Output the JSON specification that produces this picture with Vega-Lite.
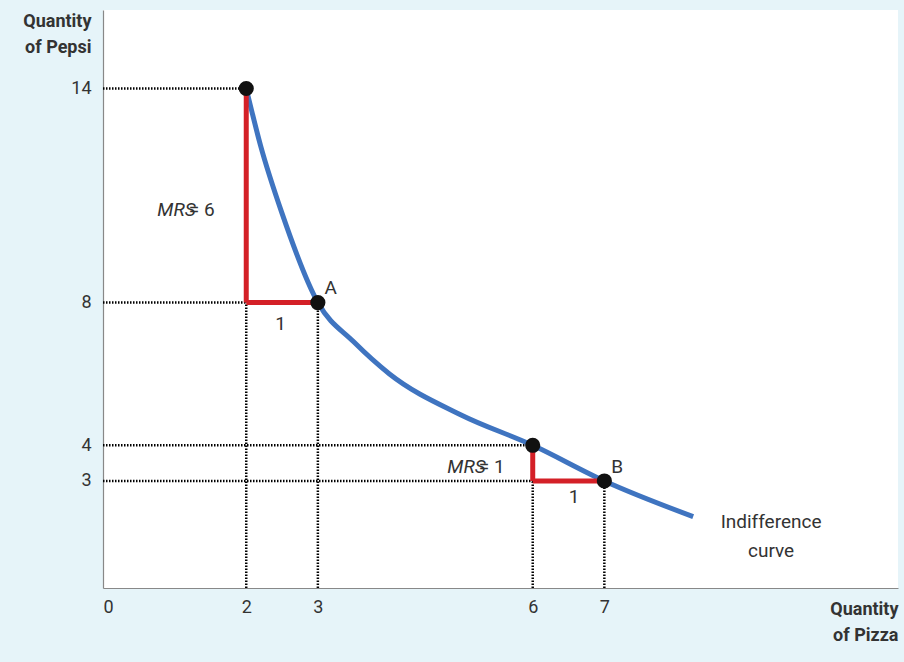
{
  "$schema": "https://vega.github.io/schema/vega-lite/v6.json",
  "width": 795,
  "height": 578,
  "autosize": {"type": "none"},
  "padding": {"left": 103, "top": 10, "right": 6, "bottom": 74},
  "background": "#e6f4f9",
  "config": {
    "view": {"fill": "white", "stroke": null},
    "font": "Roboto",
    "axis": {"grid": false, "ticks": false, "domainColor": "#888888", "domainWidth": 1.2, "labelFontSize": 18, "labelColor": "#333333", "titleFontSize": 18, "titleColor": "#333333", "titleFontWeight": "bold", "format": "d"}
  },
  "datasets": {
    "curve": [
      {"x": 2, "y": 14}, {"x": 2.2, "y": 12.4}, {"x": 2.5, "y": 10.5}, {"x": 3, "y": 8},
      {"x": 3.5, "y": 6.9}, {"x": 4, "y": 6.0}, {"x": 5, "y": 4.85}, {"x": 6, "y": 4},
      {"x": 7, "y": 3}, {"x": 8.24, "y": 2.0}
    ],
    "dotted": [
      {"x": 0, "x2": 2, "y": 14, "y2": 14}, {"x": 0, "x2": 3, "y": 8, "y2": 8},
      {"x": 0, "x2": 6, "y": 4, "y2": 4}, {"x": 0, "x2": 7, "y": 3, "y2": 3},
      {"x": 2, "x2": 2, "y": 0, "y2": 8}, {"x": 3, "x2": 3, "y": 0, "y2": 8},
      {"x": 6, "x2": 6, "y": 0, "y2": 3}, {"x": 7, "x2": 7, "y": 0, "y2": 3}
    ],
    "red": [
      {"x": 2, "x2": 2, "y": 14, "y2": 8}, {"x": 2, "x2": 3, "y": 8, "y2": 8},
      {"x": 6, "x2": 6, "y": 4, "y2": 3}, {"x": 6, "x2": 7, "y": 3, "y2": 3}
    ],
    "points": [{"x": 2, "y": 14}, {"x": 3, "y": 8}, {"x": 6, "y": 4}, {"x": 7, "y": 3}],
    "labels": [
      {"x": 1.35, "y": 10.6, "t": "= 6", "a": "left"},
      {"x": 2.45, "y": 7.4, "t": "1", "a": "center"},
      {"x": 3.15, "y": 8.4, "t": "A", "a": "left"},
      {"x": 5.4, "y": 3.4, "t": "= 1", "a": "left"},
      {"x": 6.55, "y": 2.55, "t": "1", "a": "center"},
      {"x": 7.15, "y": 3.4, "t": "B", "a": "left"},
      {"x": 9.3, "y": 1.85, "t": "Indifference", "a": "center"},
      {"x": 9.3, "y": 1.05, "t": "curve", "a": "center"}
    ],
    "italic": [{"x": 1.35, "y": 10.6, "t": "MRS"}, {"x": 5.4, "y": 3.4, "t": "MRS"}]
  },
  "layer": [
    {
      "data": {"name": "dotted"},
      "mark": {"type": "rule", "strokeDash": [1.5, 1.5], "strokeWidth": 2.5, "color": "black"},
      "encoding": {
        "x": {"field": "x", "type": "quantitative", "scale": {"domain": [0, 11.1], "nice": false, "zero": false},
          "axis": {"values": [0, 2, 3, 6, 7], "labelPadding": 10, "title": ["Quantity", "of Pizza"], "titleX": 795, "titleAlign": "right", "titleY": 12, "titleBaseline": "top", "titleLineHeight": 26}},
        "x2": {"field": "x2"},
        "y": {"field": "y", "type": "quantitative", "scale": {"domain": [0, 16.2], "nice": false},
          "axis": {"values": [3, 4, 8, 14], "labelPadding": 12, "title": ["Quantity", "of Pepsi"], "titleAngle": 0, "titleX": -12, "titleY": 2, "titleAlign": "right", "titleBaseline": "top", "titleLineHeight": 26}},
        "y2": {"field": "y2"}
      }
    },
    {
      "data": {"name": "curve"},
      "mark": {"type": "line", "interpolate": "monotone", "color": "#3f74c0", "strokeWidth": 5},
      "encoding": {"x": {"field": "x", "type": "quantitative"}, "y": {"field": "y", "type": "quantitative"}}
    },
    {
      "data": {"name": "red"},
      "mark": {"type": "rule", "color": "#d42027", "strokeWidth": 5},
      "encoding": {"x": {"field": "x", "type": "quantitative"}, "x2": {"field": "x2"}, "y": {"field": "y", "type": "quantitative"}, "y2": {"field": "y2"}}
    },
    {
      "data": {"name": "points"},
      "mark": {"type": "circle", "size": 230, "color": "#111111", "opacity": 1},
      "encoding": {"x": {"field": "x", "type": "quantitative"}, "y": {"field": "y", "type": "quantitative"}}
    },
    {
      "data": {"name": "labels"},
      "mark": {"type": "text", "fontSize": 19, "color": "#333333", "baseline": "middle", "dx": 2},
      "encoding": {"x": {"field": "x", "type": "quantitative"}, "y": {"field": "y", "type": "quantitative"}, "text": {"field": "t"}, "align": {"field": "a", "type": "nominal", "scale": null}}
    },
    {
      "data": {"name": "italic"},
      "mark": {"type": "text", "fontSize": 19, "fontStyle": "italic", "color": "#333333", "baseline": "middle", "align": "right", "dx": -4},
      "encoding": {"x": {"field": "x", "type": "quantitative"}, "y": {"field": "y", "type": "quantitative"}, "text": {"field": "t"}}
    }
  ]
}
